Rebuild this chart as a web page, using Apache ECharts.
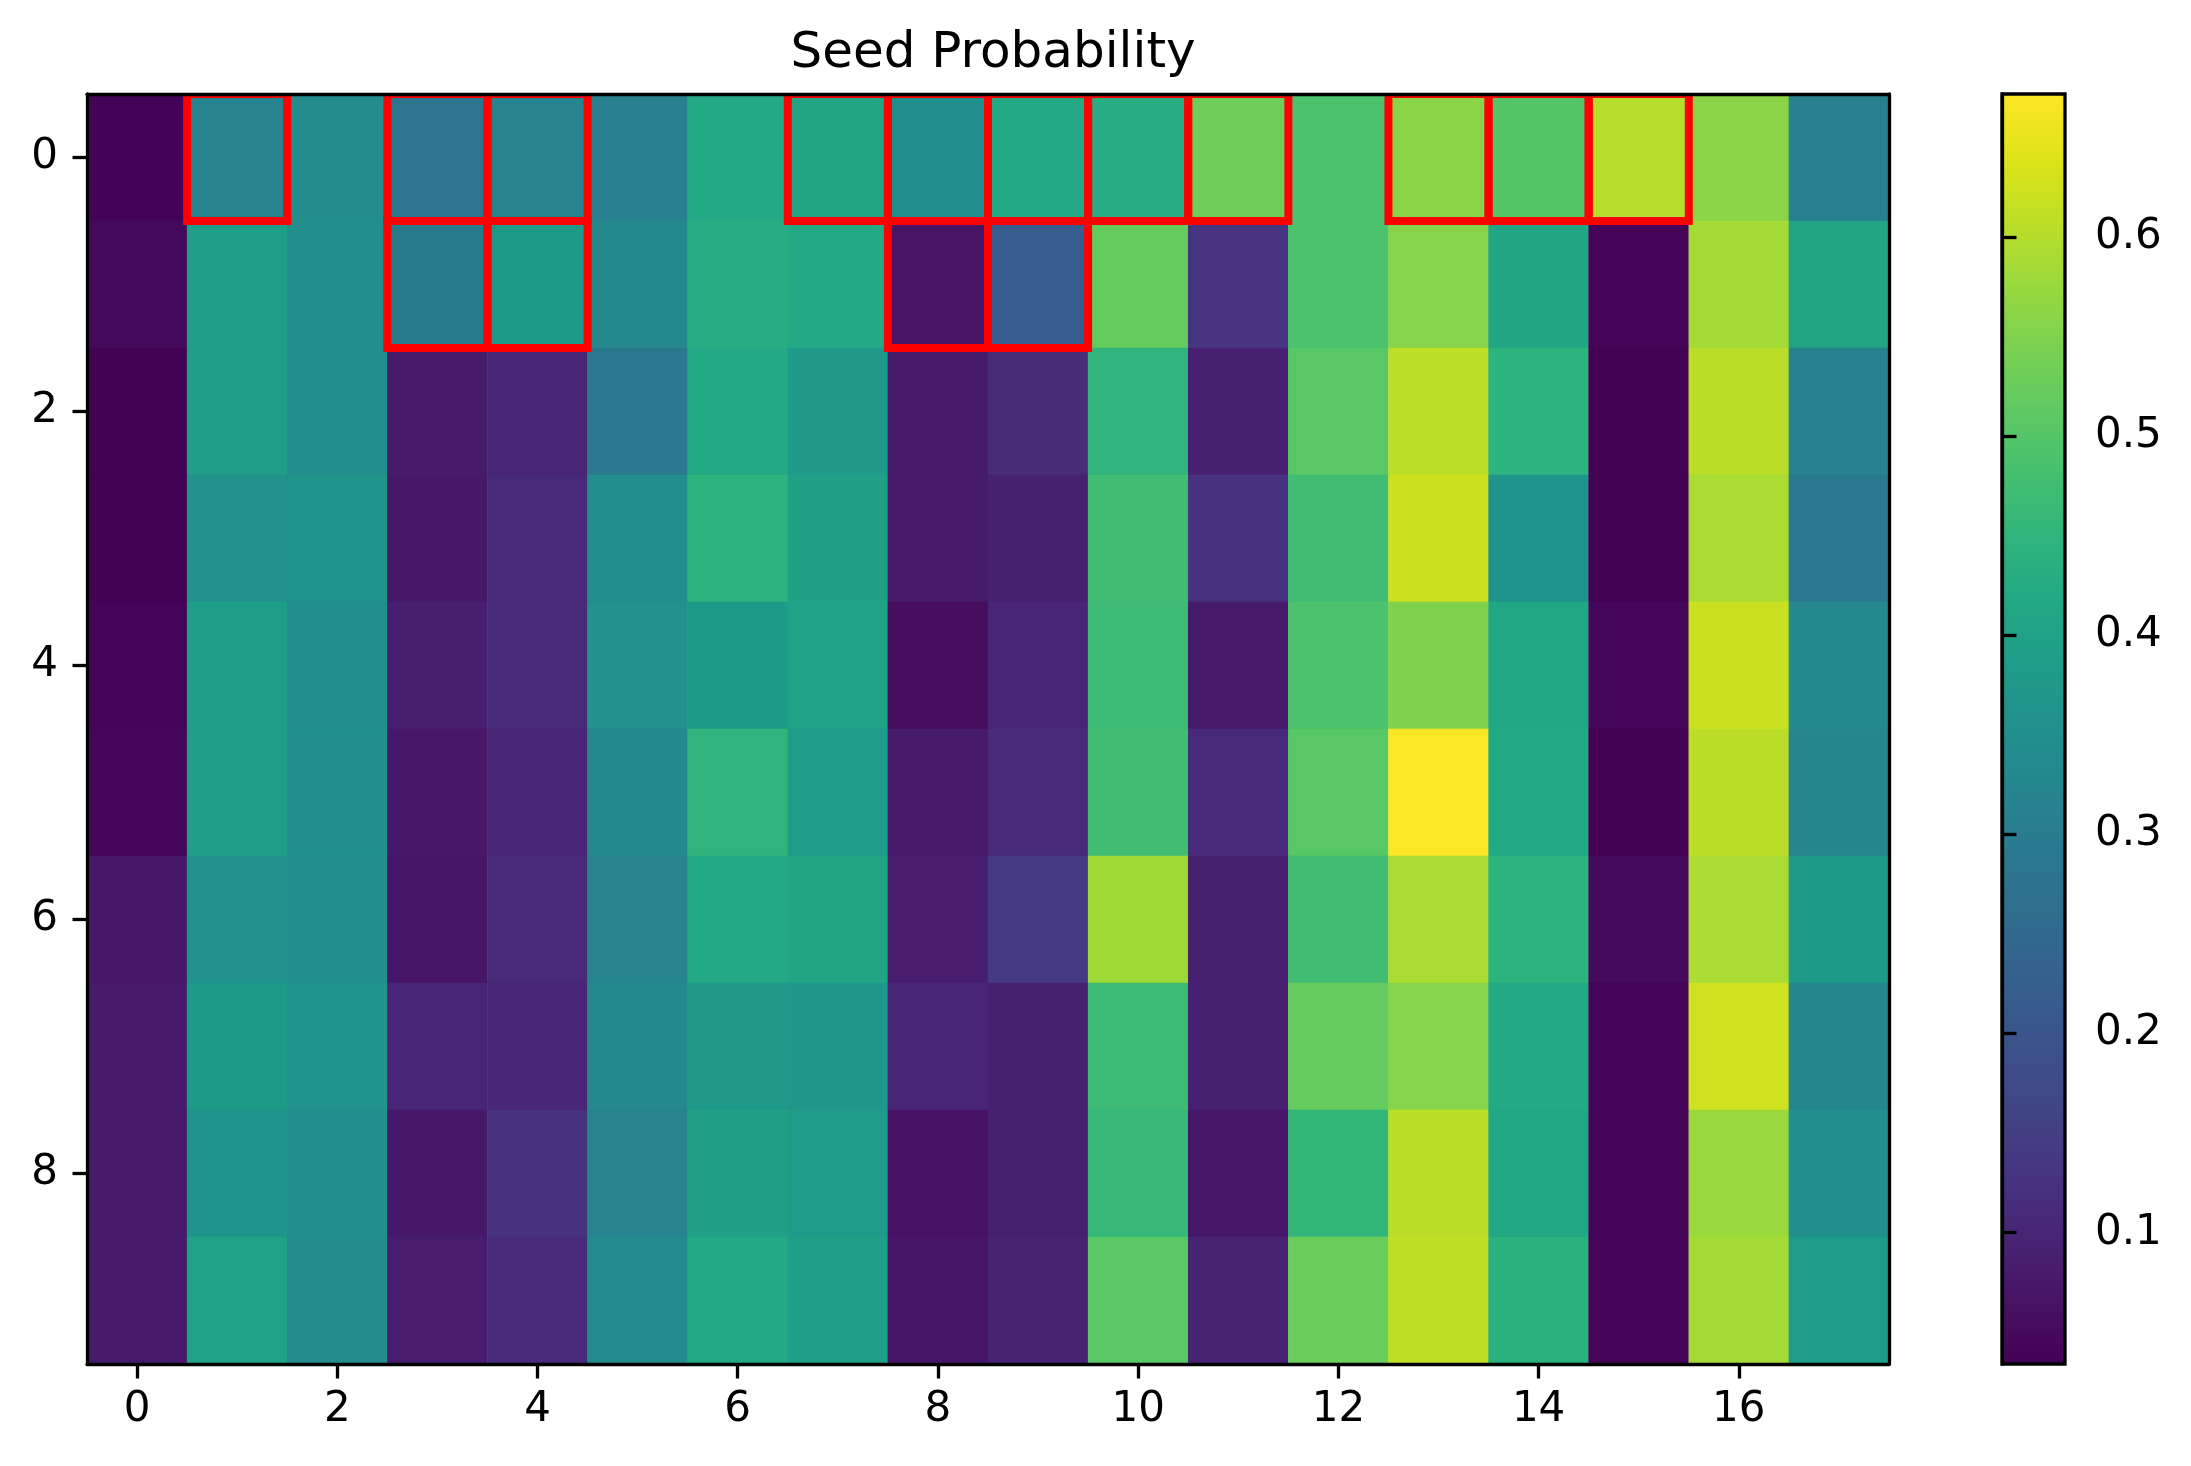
<!DOCTYPE html>
<html>
<head>
<meta charset="utf-8">
<script src="https://cdn.jsdelivr.net/npm/echarts@6/dist/echarts.min.js"></script>
<style>
html,body{margin:0;padding:0;background:#fff;}
#chart{width:2191px;height:1466px;}
</style>
</head>
<body>
<div id="chart"></div>
<script>
// ---- data ----
const xCategories = ['0','1','2','3','4','5','6','7','8','9','10','11','12','13','14','15','16','17'];
const yCategories = ['0','1','2','3','4','5','6','7','8','9'];
const seedProb = [
  [0.037,0.320,0.340,0.280,0.320,0.310,0.420,0.410,0.350,0.420,0.430,0.530,0.490,0.560,0.500,0.600,0.560,0.310],
  [0.050,0.390,0.350,0.300,0.380,0.330,0.430,0.420,0.068,0.220,0.520,0.130,0.490,0.555,0.410,0.040,0.585,0.410],
  [0.036,0.390,0.345,0.080,0.100,0.290,0.420,0.375,0.080,0.113,0.450,0.090,0.505,0.607,0.445,0.036,0.605,0.315],
  [0.035,0.355,0.360,0.075,0.110,0.345,0.445,0.395,0.080,0.090,0.475,0.125,0.475,0.623,0.360,0.036,0.590,0.290],
  [0.040,0.390,0.350,0.087,0.110,0.355,0.380,0.400,0.055,0.100,0.470,0.080,0.490,0.550,0.415,0.045,0.620,0.330],
  [0.045,0.390,0.350,0.075,0.100,0.330,0.450,0.385,0.080,0.110,0.475,0.110,0.505,0.672,0.420,0.034,0.605,0.325],
  [0.075,0.355,0.350,0.070,0.110,0.320,0.420,0.410,0.085,0.140,0.580,0.090,0.475,0.590,0.445,0.050,0.590,0.380],
  [0.080,0.380,0.360,0.100,0.100,0.330,0.375,0.370,0.100,0.090,0.470,0.090,0.520,0.555,0.420,0.040,0.625,0.325],
  [0.080,0.360,0.350,0.075,0.125,0.320,0.395,0.385,0.065,0.090,0.460,0.075,0.455,0.605,0.415,0.040,0.575,0.345],
  [0.080,0.400,0.340,0.085,0.110,0.335,0.420,0.390,0.070,0.095,0.505,0.095,0.525,0.610,0.440,0.040,0.585,0.385]
];
// highlighted cells as [column, row]
const highlightCells = [
  [1,0],[3,0],[4,0],[7,0],[8,0],[9,0],[10,0],[11,0],[13,0],[14,0],[15,0],
  [3,1],[4,1],[8,1],[9,1]
];
const colorbarTicks = [0.1,0.2,0.3,0.4,0.5,0.6];
const colorMin = 0.034;
const colorMax = 0.672;
const titleText = 'Seed Probability';

// ---- styles ----
const viridis = ['#440154','#471365','#482475','#463480','#414487','#3b528b','#355f8d','#2f6c8e','#2a788e','#25848e','#21918c','#1e9c89','#22a884','#2fb47c','#44bf70','#5ec962','#7ad151','#9bd93c','#bddf26','#dfe318','#fde725'];
const FONT = 'DejaVu Sans';
const TICK_FS = 42;
const LW = 3.3;
const TICK_LEN = 14.5;

const heatData = [];
seedProb.forEach((row, r) => row.forEach((v, c) => heatData.push([c, r, v])));

const chart = echarts.init(document.getElementById('chart'), null, {renderer:'canvas'});

function catAxis(margin) {
  return {
    z: 10,
    axisLine: {show: true, lineStyle: {color: '#000', width: LW}},
    axisTick: {show: true, length: TICK_LEN, interval: 1, alignWithLabel: true, lineStyle: {color: '#000', width: LW}},
    axisLabel: {show: true, interval: 1, margin: margin, color: '#000', fontSize: TICK_FS, fontFamily: FONT},
    splitLine: {show: false}
  };
}
const frameAxis = {
  z: 10,
  axisLine: {show: true, lineStyle: {color: '#000', width: LW}},
  axisTick: {show: false},
  axisLabel: {show: false},
  splitLine: {show: false}
};

const option = {
  backgroundColor: '#fff',
  animation: false,
  title: {
    text: titleText,
    left: 988, top: 24, textAlign: 'center',
    textStyle: {fontFamily: FONT, fontSize: 50, fontWeight: 'normal', color: '#000'}
  },
  grid: [
    {left: 87, top: 94, width: 1802, height: 1270, containLabel: false},
    {left: 2002, top: 94, width: 63, height: 1270, containLabel: false}
  ],
  xAxis: [
    Object.assign({type: 'category', data: xCategories, gridIndex: 0, position: 'bottom'}, catAxis(25)),
    Object.assign({type: 'category', data: xCategories, gridIndex: 0, position: 'top'}, frameAxis),
    {type: 'value', gridIndex: 1, min: 0, max: 1, show: false}
  ],
  yAxis: [
    Object.assign({type: 'category', data: yCategories, gridIndex: 0, position: 'left', inverse: true}, catAxis(29)),
    Object.assign({type: 'category', data: yCategories, gridIndex: 0, position: 'right', inverse: true}, frameAxis),
    {
      type: 'value', gridIndex: 1, position: 'right', min: colorMin, max: colorMax, z: 10,
      axisLine: {show: true, lineStyle: {color: '#000', width: LW}},
      axisTick: {show: true, length: TICK_LEN, inside: false, customValues: colorbarTicks, lineStyle: {color: '#000', width: LW}},
      axisLabel: {show: true, margin: 30, customValues: colorbarTicks, color: '#000', fontSize: TICK_FS, fontFamily: FONT,
        formatter: v => Number(v).toFixed(1)},
      splitLine: {show: false}
    }
  ],
  visualMap: {
    show: false, type: 'continuous', seriesIndex: 0, dimension: 2,
    min: colorMin, max: colorMax,
    inRange: {color: viridis}
  },
  series: [
    {
      type: 'heatmap', xAxisIndex: 0, yAxisIndex: 0, data: heatData,
      itemStyle: {borderWidth: 0},
      emphasis: {disabled: true}, progressive: 0
    },
    {
      type: 'custom', xAxisIndex: 0, yAxisIndex: 0, clip: true, z: 5,
      data: highlightCells,
      encode: {x: 0, y: 1},
      renderItem: function (params, api) {
        const c = api.coord([api.value(0), api.value(1)]);
        const s = api.size([1, 1]);
        return {
          type: 'rect',
          shape: {x: c[0] - s[0] / 2, y: c[1] - s[1] / 2, width: s[0], height: s[1]},
          style: {fill: 'none', stroke: '#ff0000', lineWidth: 8}
        };
      }
    },
    {
      type: 'custom', xAxisIndex: 2, yAxisIndex: 2, z: 3,
      data: [[0, colorMin, colorMax]],
      encode: {x: 0, y: [1, 2]},
      renderItem: function (params, api) {
        const top = api.coord([0, api.value(2)]);
        const bot = api.coord([1, api.value(1)]);
        const stops = viridis.map((col, i) => ({offset: i / (viridis.length - 1), color: col}));
        return {
          type: 'rect',
          shape: {x: top[0], y: top[1], width: bot[0] - top[0], height: bot[1] - top[1]},
          style: {
            fill: new echarts.graphic.LinearGradient(0, 1, 0, 0, stops),
            stroke: '#000', lineWidth: LW
          }
        };
      }
    }
  ]
};
chart.setOption(option);
</script>
</body>
</html>
